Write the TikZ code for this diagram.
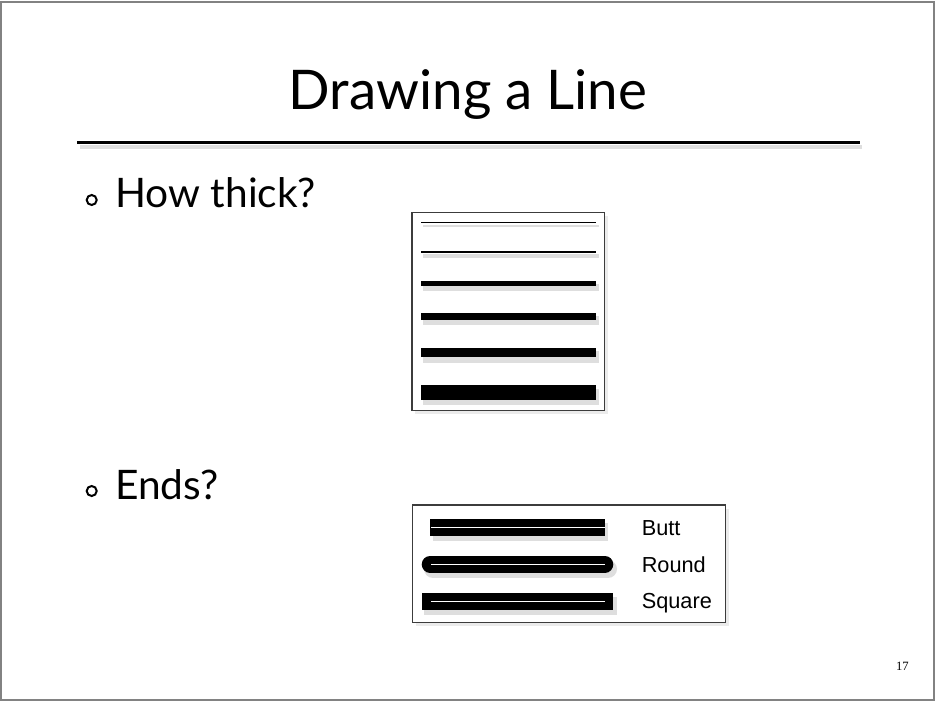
\documentclass[tikz,border=0pt]{standalone}
\usepackage{fontspec}
\setmainfont{Lato}
\newfontfamily\labelfont{Liberation Sans}
\newfontfamily\numfont{Liberation Serif}
\usetikzlibrary{positioning}

\tikzset{
  shade line/.style={draw=black, opacity=0.13},
  frame box/.style={draw={rgb,255:red,60;green,60;blue,60}, line width=1.1pt},
  bullet dot/.style={circle, draw=black, line width=1.5pt, minimum size=7.5pt, inner sep=0pt},
  white core/.style={draw=white, line width=1.1pt, line cap=butt},
  cap name/.style={anchor=base west, inner sep=0pt, font=\labelfont\fontsize{16.3}{19}\selectfont}
}

\begin{document}
\begin{tikzpicture}[x=0.75pt,y=0.75pt,yscale=-1,xscale=1]
\useasboundingbox (0,0) rectangle (935,702);
\fill[white] (0,0) rectangle (935,702);

%Outer frame
\draw [draw={rgb,255:red,130;green,130;blue,130}, line width=1.5pt] (1,2.5) rectangle (933.5,699.5);

% Text Node
\node (title) [anchor=base, inner sep=0pt, font=\fontsize{41}{48}\selectfont] at (468,110) {Drawing a Line};

%Straight Lines (rule)
\draw [shade line, line width=3.5pt] (80,147) -- (862,147) ;
\draw [line width=2.2pt] (77,142.8) -- (860,142.8) ;

% Bullets and Text Nodes
\node (dotA) [bullet dot] at (91.7,200) {};
\node (thick) [anchor=base west, inner sep=0pt, font=\fontsize{30.5}{36}\selectfont] at (115,208) {How thick?};
\node (dotB) [bullet dot] at (91.7,491) {};
\node (ends) [anchor=base west, inner sep=0pt, font=\fontsize{30.5}{36}\selectfont] at (115,499) {Ends?};

%Thickness box
\fill [black!8] (415,216) rectangle (608,414) ;
\fill [white] (412,212.5) rectangle (604.5,410.5) ;
\draw [frame box] (412,212.5) rectangle (604.5,410.5) ;

%Straight Lines (thickness samples)
\draw [shade line, line width=2.2pt] (423,226) -- (599,226) ;
\draw [line width=1.1pt] (421,222.3) -- (596,222.3) ;
\draw [shade line, line width=3pt] (423,256) -- (599,256) ;
\draw [line width=1.9pt] (421,252) -- (596,252) ;
\draw [shade line, line width=5pt] (423,287.5) -- (599,287.5) ;
\draw [line width=3.75pt] (421,283.5) -- (596,283.5) ;
\draw [shade line, line width=6.5pt] (423,320.5) -- (599,320.5) ;
\draw [line width=5.25pt] (421,316.3) -- (596,316.3) ;
\draw [shade line, line width=8.5pt] (423,357) -- (599,357) ;
\draw [line width=7.1pt] (421,352.5) -- (596,352.5) ;
\draw [shade line, line width=12.5pt] (423,397) -- (599,397) ;
\draw [line width=11.25pt] (421,392.5) -- (596,392.5) ;

%Ends box
\fill [black!8] (416,508.5) rectangle (729,626) ;
\fill [white] (412.7,505) rectangle (725.5,622.5) ;
\draw [frame box] (412.7,505) rectangle (725.5,622.5) ;

%Straight Lines (cap samples)
\draw [shade line, line width=13.5pt, line cap=butt] (433,532) -- (608,532) ;
\draw [line width=12.4pt, line cap=butt] (430,527.5) -- (605,527.5) ;
\draw [white core] (431,527.5) -- (605,527.5) ;
\draw [shade line, line width=13.5pt, line cap=round] (433,569) -- (608,569) ;
\draw [line width=12.4pt, line cap=round] (430,564.3) -- (605,564.3) ;
\draw [white core] (431,564.3) -- (605,564.3) ;
\draw [shade line, line width=13.5pt, line cap=rect] (433,606) -- (608,606) ;
\draw [line width=12.4pt, line cap=rect] (430,601.3) -- (605,601.3) ;
\draw [white core] (431,601.3) -- (605,601.3) ;

% Text Nodes (cap names)
\node (butt) [cap name] at (641.5,535) {Butt};
\node (round) [cap name] at (641.5,572.3) {Round};
\node (square) [cap name] at (641.5,608.3) {Square};

% Text Node (page number)
\node (page) [anchor=base, font=\numfont\fontsize{9.5}{11}\selectfont] at (902.4,670.7) {17};

\end{tikzpicture}
\end{document}
